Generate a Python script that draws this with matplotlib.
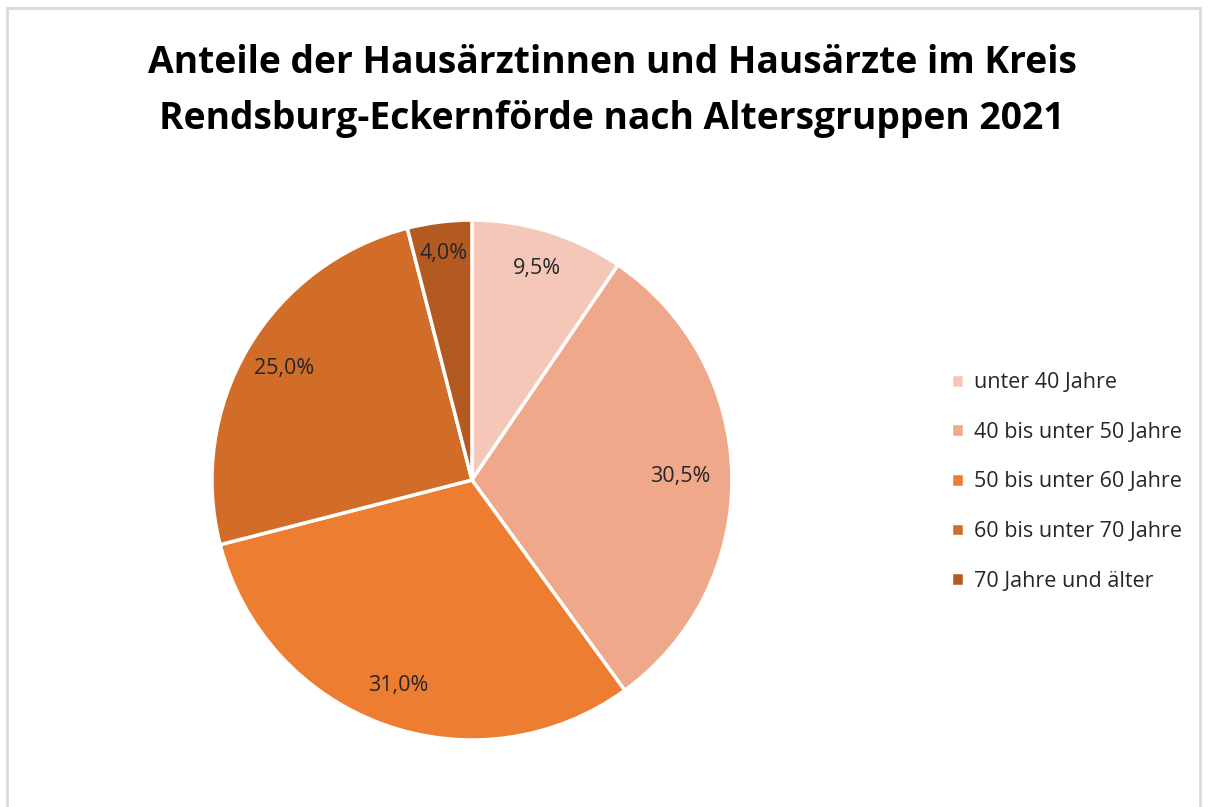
import matplotlib.pyplot as plt
from matplotlib.patches import Rectangle

title = 'Anteile der Hausärztinnen und Hausärzte im Kreis\nRendsburg-Eckernförde nach Altersgruppen 2021'
groups = ['unter 40 Jahre', '40 bis unter 50 Jahre', '50 bis unter 60 Jahre',
          '60 bis unter 70 Jahre', '70 Jahre und älter']
shares = [9.5, 30.5, 31.0, 25.0, 4.0]
colors = ['#F4C7B8', '#F0A88B', '#ED7D31', '#D16C29', '#B35A22']
label_dist = [0.85, 0.80, 0.84, 0.84, 0.88]

plt.rcParams['font.family'] = ['Open Sans', 'DejaVu Sans']

fig = plt.figure(figsize=(12.12, 8.07), dpi=100)
fig.patches.append(Rectangle((7 / 1212, -0.1), 1193 / 1212, 1.1 - 8 / 807,
                             transform=fig.transFigure, fill=False,
                             edgecolor='#D9D9D9', linewidth=2))

ax = fig.add_axes([0.1749, 0.0830, 0.4290, 0.6444])
wedges, texts, autotexts = ax.pie(
    shares, colors=colors, startangle=90, counterclock=False, radius=1,
    autopct=lambda v: f'{v:.1f}'.replace('.', ',') + '%', pctdistance=0.84,
    wedgeprops=dict(edgecolor='white', linewidth=2.5),
    textprops=dict(fontsize=15.5, color='#262626'))
for t, d in zip(autotexts, label_dist):
    x, y = t.get_position()
    t.set_position((x * d / 0.84, y * d / 0.84))
ax.set_xlim(-1, 1)
ax.set_ylim(-1, 1)
ax.set_aspect('equal')

fig.text(0.505, 0.887, title, ha='center', va='center', fontsize=26.8,
         fontweight='bold', color='black', linespacing=1.6)

fig.legend(wedges, groups, loc='center left', bbox_to_anchor=(0.7685, 0.4028),
           frameon=False, fontsize=15.5, handlelength=0.62, handleheight=0.62,
           handletextpad=0.45, labelspacing=1.33, labelcolor='#262626')

fig.savefig('out.png', dpi=100)
